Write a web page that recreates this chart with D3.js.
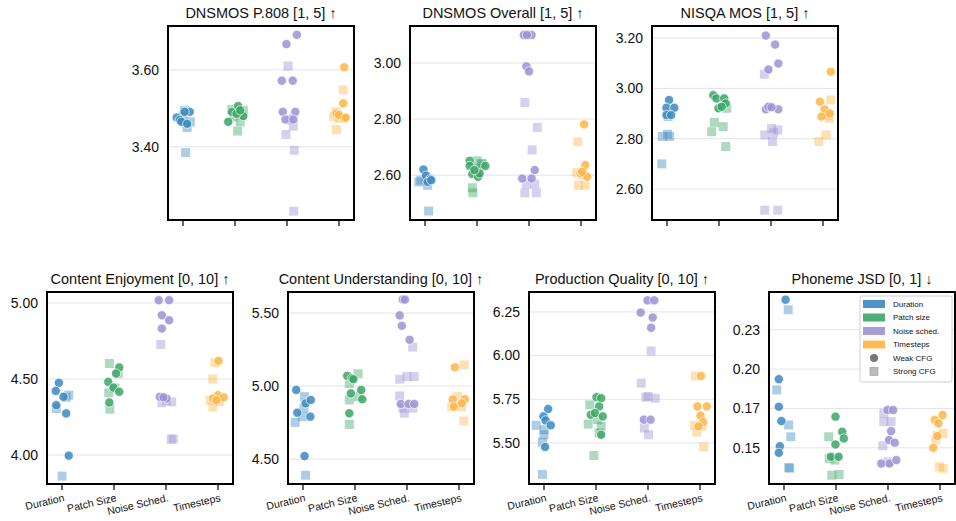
<!DOCTYPE html>
<html>
<head>
<meta charset="utf-8">
<script src="https://cdn.jsdelivr.net/npm/d3@7"></script>
<style>
  body { margin: 0; background: #fff; }
  text { font-family: "Liberation Sans", Arial, sans-serif; fill: #111; }
</style>
</head>
<body>
<div id="chart"></div>
<script>
// categories on the x axis of every panel
const categories = ["Duration", "Patch Size", "Noise Sched.", "Timesteps"];
const legendLabels = ["Duration", "Patch size", "Noise sched.", "Timesteps"];
const colors = ["#3b88c0", "#3aa467", "#9b92d4", "#fdb548"];

const titles = [
  "DNSMOS P.808 [1, 5] ↑", "DNSMOS Overall [1, 5] ↑", "NISQA MOS [1, 5] ↑",
  "Content Enjoyment [0, 10] ↑", "Content Understanding [0, 10] ↑",
  "Production Quality [0, 10] ↑", "Phoneme JSD [0, 1] ↓"
];
const yDomains = [
  [3.21, 3.714], [2.44, 3.132], [2.477, 3.248],
  [3.81, 5.072], [4.33, 5.644], [5.265, 6.364], [0.127, 0.249]
];
const yTicks = [
  [3.4, 3.6], [2.6, 2.8, 3.0], [2.6, 2.8, 3.0, 3.2],
  [4.0, 4.5, 5.0], [4.5, 5.0, 5.5], [5.5, 5.75, 6.0, 6.25], [0.15, 0.175, 0.2, 0.225]
];

// values per category (Duration, Patch Size, Noise Sched., Timesteps)
const p808Weak = [
  [3.491, 3.491, 3.476, 3.470, 3.465, 3.460],
  [3.465, 3.491, 3.506, 3.480, 3.486, 3.495],
  [3.667, 3.691, 3.572, 3.572, 3.491, 3.491, 3.471, 3.471],
  [3.607, 3.513, 3.487, 3.474, 3.483, 3.476]
];
const p808Strong = [
  [3.494, 3.480, 3.465, 3.450, 3.385],
  [3.497, 3.495, 3.465, 3.441, 3.478, 3.483],
  [3.610, 3.474, 3.454, 3.432, 3.391, 3.233, 3.470],
  [3.548, 3.491, 3.445, 3.474, 3.478]
];
const overallWeak = [
  [2.620, 2.598, 2.586, 2.576, 2.582],
  [2.651, 2.633, 2.604, 2.594, 2.606, 2.633, 2.618],
  [3.100, 3.100, 3.100, 2.988, 2.970, 2.618, 2.588, 2.588],
  [2.781, 2.636, 2.606, 2.594, 2.612]
];
const overallStrong = [
  [2.576, 2.564, 2.472, 2.582, 2.594],
  [2.555, 2.537, 2.651, 2.639, 2.624, 2.642],
  [2.859, 2.770, 2.690, 2.537, 2.537, 2.568, 2.568],
  [2.719, 2.609, 2.564, 2.564, 2.600]
];
const nisqaWeak = [
  [2.954, 2.923, 2.923, 2.894, 2.894],
  [2.973, 2.960, 2.960, 2.921, 2.940, 2.927],
  [3.210, 3.174, 3.099, 3.075, 2.917, 2.927, 2.917, 2.925],
  [3.066, 2.947, 2.917, 2.888, 2.901]
];
const nisqaStrong = [
  [2.809, 2.818, 2.888, 2.809, 2.700],
  [2.865, 2.828, 2.848, 2.769, 2.921],
  [3.056, 2.815, 2.841, 2.835, 2.789, 2.516, 2.516, 2.824],
  [2.954, 2.881, 2.815, 2.789, 2.894]
];
const enjoyWeak = [
  [4.475, 4.422, 4.328, 4.383, 4.274, 3.996],
  [4.481, 4.444, 4.576, 4.536, 4.416, 4.346],
  [5.018, 5.018, 4.919, 4.886, 4.832, 4.383, 4.372, 4.380],
  [4.619, 4.394, 4.379, 4.372, 4.361]
];
const enjoyStrong = [
  [4.306, 4.394, 3.862, 4.380],
  [4.602, 4.536, 4.409, 4.302, 4.440],
  [4.727, 4.344, 4.350, 4.357, 4.105, 4.105],
  [4.608, 4.499, 4.361, 4.350, 4.317]
];
const understandWeak = [
  [4.974, 4.818, 4.882, 4.905, 4.791, 4.521],
  [5.070, 5.054, 5.047, 4.950, 4.974, 4.910, 4.814],
  [5.592, 5.592, 5.484, 5.413, 5.317, 4.878, 4.878, 4.878],
  [5.129, 4.910, 4.910, 4.882, 4.859]
];
const understandStrong = [
  [4.752, 4.928, 4.791, 4.848, 4.390],
  [5.084, 5.018, 4.905, 4.928, 4.738],
  [5.267, 5.047, 5.065, 5.065, 4.933, 4.814, 4.848, 4.848],
  [5.145, 4.928, 4.859, 4.859, 4.761]
];
const qualityWeak = [
  [5.694, 5.652, 5.629, 5.601, 5.477],
  [5.762, 5.756, 5.709, 5.661, 5.671, 5.652, 5.547],
  [6.246, 6.316, 6.316, 6.218, 6.159, 5.633, 5.633],
  [5.883, 5.709, 5.709, 5.656, 5.620, 5.595]
];
const qualityStrong = [
  [5.601, 5.576, 5.547, 5.504, 5.320],
  [5.718, 5.608, 5.595, 5.557, 5.428, 5.633],
  [6.026, 5.842, 5.766, 5.756, 5.762, 5.585, 5.547],
  [5.883, 5.601, 5.563, 5.477, 5.595]
];
const jsdWeak = [
  [0.2441, 0.1936, 0.1761, 0.1670, 0.1510, 0.1468],
  [0.1698, 0.1602, 0.1559, 0.1521, 0.1443, 0.1443],
  [0.1740, 0.1740, 0.1606, 0.1549, 0.1532, 0.1400, 0.1400, 0.1422],
  [0.1677, 0.1708, 0.1655, 0.1575, 0.1500]
];
const jsdStrong = [
  [0.2377, 0.1868, 0.1645, 0.1570, 0.1375, 0.1370],
  [0.1570, 0.1432, 0.1422, 0.1326, 0.1330],
  [0.1719, 0.1666, 0.1666, 0.1513, 0.1411],
  [0.1580, 0.1591, 0.1549, 0.1379, 0.1369]
];

// strip-plot jitter, in units of the category step
const p808WeakJit = [[0.13, 0.03, -0.12, -0.06, -0.03, 0.08], [-0.13, -0.06, 0.06, 0.16, 0.03, 0.10], [-0.01, 0.19, -0.10, 0.11, -0.08, 0.16, -0.03, 0.12], [0.10, 0.08, -0.05, 0.10, 0, 0.13]];
const p808StrongJit = [[0.03, 0, 0.14, 0.08, 0.05], [-0.06, 0.16, 0.10, 0.05, -0.03, 0.13], [0.02, 0.12, 0.12, -0.02, 0.14, 0.13, 0.06], [0.08, -0.06, -0.05, 0.01, -0.10]];
const overallWeakJit = [[-0.03, 0.02, 0.10, 0.05, 0.12], [-0.14, -0.14, -0.09, 0.02, 0.05, 0.16, -0.05], [-0.10, 0.05, -0.04, -0.05, 0, 0.11, -0.13, 0.05], [0.06, 0.08, -0.01, 0.12, 0.02]];
const overallStrongJit = [[-0.12, 0.05, 0.07, -0.08, 0.02], [-0.09, -0.08, 0, 0.08, 0.02, 0.10], [-0.08, 0.16, 0.06, -0.08, 0.14, -0.05, 0.11], [-0.06, -0.08, -0.05, 0.08, 0.04]];
const nisqaWeakJit = [[0.04, -0.01, 0.14, -0.01, 0.08], [-0.11, -0.05, 0.10, -0.01, 0.13, 0.05], [-0.10, 0.08, 0.14, -0.05, -0.10, -0.05, 0.14, 0.01], [0.15, -0.06, 0.03, -0.03, 0.13]];
const nisqaStrongJit = [[-0.09, 0.01, 0.02, 0.05, -0.10], [-0.09, -0.14, 0.08, 0.13, 0.15], [-0.13, -0.12, 0.01, 0.13, 0.03, -0.12, 0.13, 0.05], [0.15, 0.12, 0.06, -0.08, 0.10]];
const enjoyWeakJit = [[-0.06, -0.12, -0.11, 0.03, 0.08, 0.13], [-0.11, -0.01, 0.10, 0.04, 0.10, -0.09], [-0.14, 0.06, -0.08, 0.06, -0.08, -0.12, 0.01, -0.05], [0.01, 0, 0.11, -0.10, -0.03]];
const enjoyStrongJit = [[-0.11, 0.13, 0, 0.08], [-0.09, 0.08, -0.10, -0.08, 0.02], [-0.10, -0.08, 0.11, 0.01, 0.10, 0.14], [-0.06, -0.10, -0.15, 0.03, -0.10]];
const understandWeakJit = [[-0.13, -0.11, 0.05, 0.15, 0.14, 0.03], [-0.15, -0.06, -0.03, -0.08, 0.12, 0.14, -0.11], [-0.08, -0.04, -0.14, -0.10, 0.05, -0.12, 0.03, 0.14], [-0.08, -0.12, 0.11, 0.05, -0.10]];
const understandStrongJit = [[-0.15, 0.03, -0.01, 0.02, 0.05], [0.06, -0.11, -0.11, 0.06, -0.11], [0.11, -0.14, 0, 0.14, -0.14, -0.05, 0.11, -0.08], [0.10, -0.03, -0.14, 0.05, 0.09]];
const qualityWeakJit = [[0.08, -0.01, 0.03, 0.13, 0.02], [0.01, 0.10, 0.06, -0.10, -0.02, 0.13, 0.10], [-0.14, -0.01, 0.12, 0.09, 0.06, -0.08, 0.05], [0.02, -0.05, 0.13, 0.01, 0.06, -0.03]];
const qualityStrongJit = [[-0.15, 0, 0, -0.03, -0.03], [-0.12, -0.15, 0.10, 0.06, -0.04, 0.03], [0.06, -0.13, 0, 0.14, -0.04, -0.07, 0.01], [-0.09, -0.11, -0.06, 0.07, 0.04]];
const jsdWeakJit = [[0.03, -0.10, -0.10, -0.05, -0.08, -0.10], [-0.01, 0.12, 0.15, -0.01, -0.10, 0.05], [-0.01, 0.10, 0.06, 0.02, 0.13, -0.13, 0.03, 0.16], [-0.10, 0.05, -0.03, -0.05, -0.13]];
const jsdStrongJit = [[0.08, -0.14, 0.09, 0.13, 0.09, 0.11], [-0.14, -0.13, -0.02, -0.08, 0.06], [-0.08, -0.08, 0.06, -0.10, 0], [-0.06, 0.06, -0.08, -0.01, 0.06]];

const weakSets = [p808Weak, overallWeak, nisqaWeak, enjoyWeak, understandWeak, qualityWeak, jsdWeak];
const strongSets = [p808Strong, overallStrong, nisqaStrong, enjoyStrong, understandStrong, qualityStrong, jsdStrong];
const weakJits = [p808WeakJit, overallWeakJit, nisqaWeakJit, enjoyWeakJit, understandWeakJit, qualityWeakJit, jsdWeakJit];
const strongJits = [p808StrongJit, overallStrongJit, nisqaStrongJit, enjoyStrongJit, understandStrongJit, qualityStrongJit, jsdStrongJit];

const width = 956, height = 521;
const pw = 186;
// panel frames: top row of 3, bottom row of 4
const frames = [
  {x: 168, y: 26, h: 194}, {x: 410, y: 26, h: 194}, {x: 652, y: 26, h: 194},
  {x: 47, y: 292, h: 192}, {x: 288, y: 292, h: 192}, {x: 529, y: 292, h: 192}, {x: 769, y: 292, h: 192}
];

const svg = d3.select("#chart").append("svg")
    .attr("width", width)
    .attr("height", height);

const fmt = d3.format(".2f");

titles.forEach((title, pi) => {
  const f = frames[pi];
  const g = svg.append("g").attr("transform", `translate(${f.x},${f.y})`);

  const x = d3.scalePoint().domain(categories).range([15, pw - 15]);
  const y = d3.scaleLinear().domain(yDomains[pi]).range([f.h, 0]);
  const step = x.step();

  // gridlines
  g.append("g").selectAll("line")
    .data(yTicks[pi])
    .join("line")
      .attr("x1", 0).attr("x2", pw)
      .attr("y1", d => y(d)).attr("y2", d => y(d))
      .attr("stroke", "#e4e4e4")
      .attr("stroke-width", 1);

  // strong CFG squares
  const sq = [];
  strongSets[pi].forEach((vals, ci) => vals.forEach((v, k) => sq.push({ci, v, j: strongJits[pi][ci][k]})));
  g.append("g").selectAll("rect")
    .data(sq)
    .join("rect")
      .attr("x", d => x(categories[d.ci]) + d.j * step - 4.5)
      .attr("y", d => y(d.v) - 4.5)
      .attr("width", 9).attr("height", 9)
      .attr("fill", d => colors[d.ci])
      .attr("fill-opacity", 0.42);

  // weak CFG circles
  const dots = [];
  weakSets[pi].forEach((vals, ci) => vals.forEach((v, k) => dots.push({ci, v, j: weakJits[pi][ci][k]})));
  g.append("g").selectAll("circle")
    .data(dots)
    .join("circle")
      .attr("cx", d => x(categories[d.ci]) + d.j * step)
      .attr("cy", d => y(d.v))
      .attr("r", 4.6)
      .attr("fill", d => colors[d.ci])
      .attr("fill-opacity", 0.85)
      .attr("stroke", "#fff")
      .attr("stroke-width", 0.7);

  // frame
  g.append("rect")
    .attr("width", pw).attr("height", f.h)
    .attr("fill", "none")
    .attr("stroke", "#000")
    .attr("stroke-width", 2);

  // y tick labels
  g.append("g").selectAll("text")
    .data(yTicks[pi])
    .join("text")
      .attr("x", -9)
      .attr("y", d => y(d))
      .attr("dy", "0.35em")
      .attr("text-anchor", "end")
      .style("font-size", "14px")
      .text(d => fmt(d));

  // x tick marks
  g.append("g").selectAll("line")
    .data(categories)
    .join("line")
      .attr("x1", d => x(d)).attr("x2", d => x(d))
      .attr("y1", f.h + 1).attr("y2", f.h + 6)
      .attr("stroke", "#000")
      .attr("stroke-width", 1.2);

  if (pi >= 3) {
    g.append("g").selectAll("text")
      .data(categories)
      .join("text")
        .attr("transform", d => `translate(${x(d) + 3},${f.h + 17}) rotate(-13)`)
        .attr("text-anchor", "end")
        .style("font-size", "10.5px")
        .text(d => d);
  }

  // title
  g.append("text")
    .attr("x", pw / 2)
    .attr("y", -8)
    .attr("text-anchor", "middle")
    .style("font-size", "14.5px")
    .text(title);

  // legend in the last panel
  if (pi === 6) {
    const lg = g.append("g").attr("transform", "translate(91,4)");
    lg.append("rect")
      .attr("width", 92).attr("height", 86)
      .attr("rx", 2)
      .attr("fill", "#fff").attr("fill-opacity", 0.85)
      .attr("stroke", "#d0d0d0");
    legendLabels.forEach((lab, i) => {
      lg.append("rect")
        .attr("x", 3).attr("y", 4 + i * 13.5)
        .attr("width", 22).attr("height", 8)
        .attr("fill", colors[i]).attr("fill-opacity", 0.9);
      lg.append("text")
        .attr("x", 33).attr("y", 8 + i * 13.5)
        .attr("dy", "0.35em")
        .style("font-size", "8px")
        .text(lab);
    });
    lg.append("circle")
      .attr("cx", 14).attr("cy", 8 + 4 * 13.5)
      .attr("r", 4).attr("fill", "#777");
    lg.append("rect")
      .attr("x", 10).attr("y", 4 + 5 * 13.5)
      .attr("width", 8).attr("height", 8)
      .attr("fill", "#bbb").attr("stroke", "#999").attr("stroke-width", 0.6);
    lg.append("text")
      .attr("x", 33).attr("y", 8 + 4 * 13.5).attr("dy", "0.35em")
      .style("font-size", "8px").text("Weak CFG");
    lg.append("text")
      .attr("x", 33).attr("y", 8 + 5 * 13.5).attr("dy", "0.35em")
      .style("font-size", "8px").text("Strong CFG");
  }
});
</script>
</body>
</html>
